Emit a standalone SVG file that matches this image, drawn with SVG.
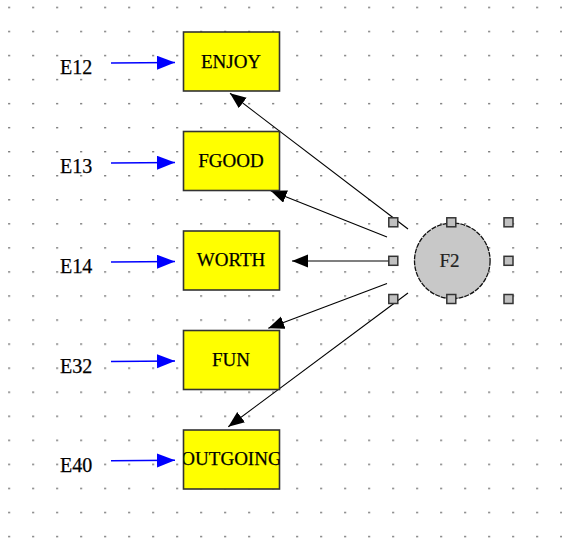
<svg xmlns="http://www.w3.org/2000/svg" width="562" height="540" viewBox="0 0 562 540">
  <defs>
    <pattern id="grid" x="8.4" y="6.7" width="24" height="24.05" patternUnits="userSpaceOnUse">
      <rect x="0" y="0" width="1.4" height="1.4" fill="#333"/>
    </pattern>
    <marker id="ah" markerUnits="userSpaceOnUse" markerWidth="17" markerHeight="14" refX="16" refY="6.5" orient="auto">
      <path d="M0,0 L16,6.5 L0,13 Z" fill="#000"/>
    </marker>
    <marker id="bh" markerUnits="userSpaceOnUse" markerWidth="19" markerHeight="15" refX="18" refY="7" orient="auto">
      <path d="M0,0 L18,7 L0,14 Z" fill="#0000ff"/>
    </marker>
    <clipPath id="clipOut"><rect x="183.5" y="430" width="96" height="59"/></clipPath>
    <style>
      .box { fill: #ffff00; stroke: #333; stroke-width: 1.6; }
      .lbl { font-family: "Liberation Serif", "Times New Roman", serif; font-size: 19px; fill: #000; stroke: #000; stroke-width: 0.25; text-anchor: middle; }
      .elbl { font-family: "Liberation Serif", "Times New Roman", serif; font-size: 20px; fill: #000; stroke: #000; stroke-width: 0.25; }
      .load { stroke: #000; stroke-width: 1.1; fill: none; marker-end: url(#ah); }
      .err { stroke: #0000ff; stroke-width: 1.5; fill: none; marker-end: url(#bh); }
      .hdl { fill: #c0c0c0; stroke: #333; stroke-width: 1.5; }
    </style>
  </defs>
  <rect width="562" height="540" fill="#fff"/>
  <rect width="562" height="540" fill="url(#grid)"/>

  <g id="connectors">
    <path class="load" d="M408,229 L230,93.3"/>
    <path class="load" d="M387,237 L270.7,190.7"/>
    <path class="load" d="M393,261 L292,261"/>
    <path class="load" d="M387,283.5 L268.3,328.3"/>
    <path class="load" d="M408,293 L228.3,426.7"/>
    <path class="err" d="M111,63 L175,62.5"/>
    <path class="err" d="M111,163 L175,162.5"/>
    <path class="err" d="M111,262 L175,261.5"/>
    <path class="err" d="M111,361.5 L175,361"/>
    <path class="err" d="M111,460.8 L175,460.3"/>
  </g>

  <g id="E12"><text class="elbl" x="60" y="74">E12</text></g>
  <g id="E13"><text class="elbl" x="60" y="173.3">E13</text></g>
  <g id="E14"><text class="elbl" x="60" y="272.8">E14</text></g>
  <g id="E32"><text class="elbl" x="60" y="372.5">E32</text></g>
  <g id="E40"><text class="elbl" x="60" y="471.7">E40</text></g>

  <g id="ENJOY">
    <rect class="box" x="183.5" y="32" width="96" height="59"/>
    <text class="lbl" x="231" y="67.7">ENJOY</text>
  </g>
  <g id="FGOOD">
    <rect class="box" x="183.5" y="131.5" width="96" height="59"/>
    <text class="lbl" x="231" y="166.5">FGOOD</text>
  </g>
  <g id="WORTH">
    <rect class="box" x="183.5" y="231" width="96" height="59"/>
    <text class="lbl" x="231" y="266">WORTH</text>
  </g>
  <g id="FUN">
    <rect class="box" x="183.5" y="330.5" width="96" height="59"/>
    <text class="lbl" x="231" y="365.5">FUN</text>
  </g>
  <g id="OUTGOING">
    <rect class="box" x="183.5" y="430" width="96" height="59"/>
    <text class="lbl" x="231.5" y="465" clip-path="url(#clipOut)">OUTGOING</text>
  </g>

  <g id="F2">
    <circle cx="452.3" cy="260.8" r="37.8" fill="#c8c8c8" stroke="#111" stroke-width="1.3" stroke-dasharray="5 1"/>
    <text x="449.5" y="267.3" font-family="'Liberation Serif', 'Times New Roman', serif" font-size="19" fill="#222" stroke="#222" stroke-width="0.2" text-anchor="middle">F2</text>
    <rect class="hdl" x="388.8" y="217.8" width="9" height="9"/>
    <rect class="hdl" x="446.8" y="217.8" width="9" height="9"/>
    <rect class="hdl" x="504" y="217.8" width="9" height="9"/>
    <rect class="hdl" x="388.8" y="256.3" width="9" height="9"/>
    <rect class="hdl" x="504" y="256.3" width="9" height="9"/>
    <rect class="hdl" x="388.8" y="294.5" width="9" height="9"/>
    <rect class="hdl" x="446.8" y="294.5" width="9" height="9"/>
    <rect class="hdl" x="504" y="294.5" width="9" height="9"/>
  </g>
</svg>
